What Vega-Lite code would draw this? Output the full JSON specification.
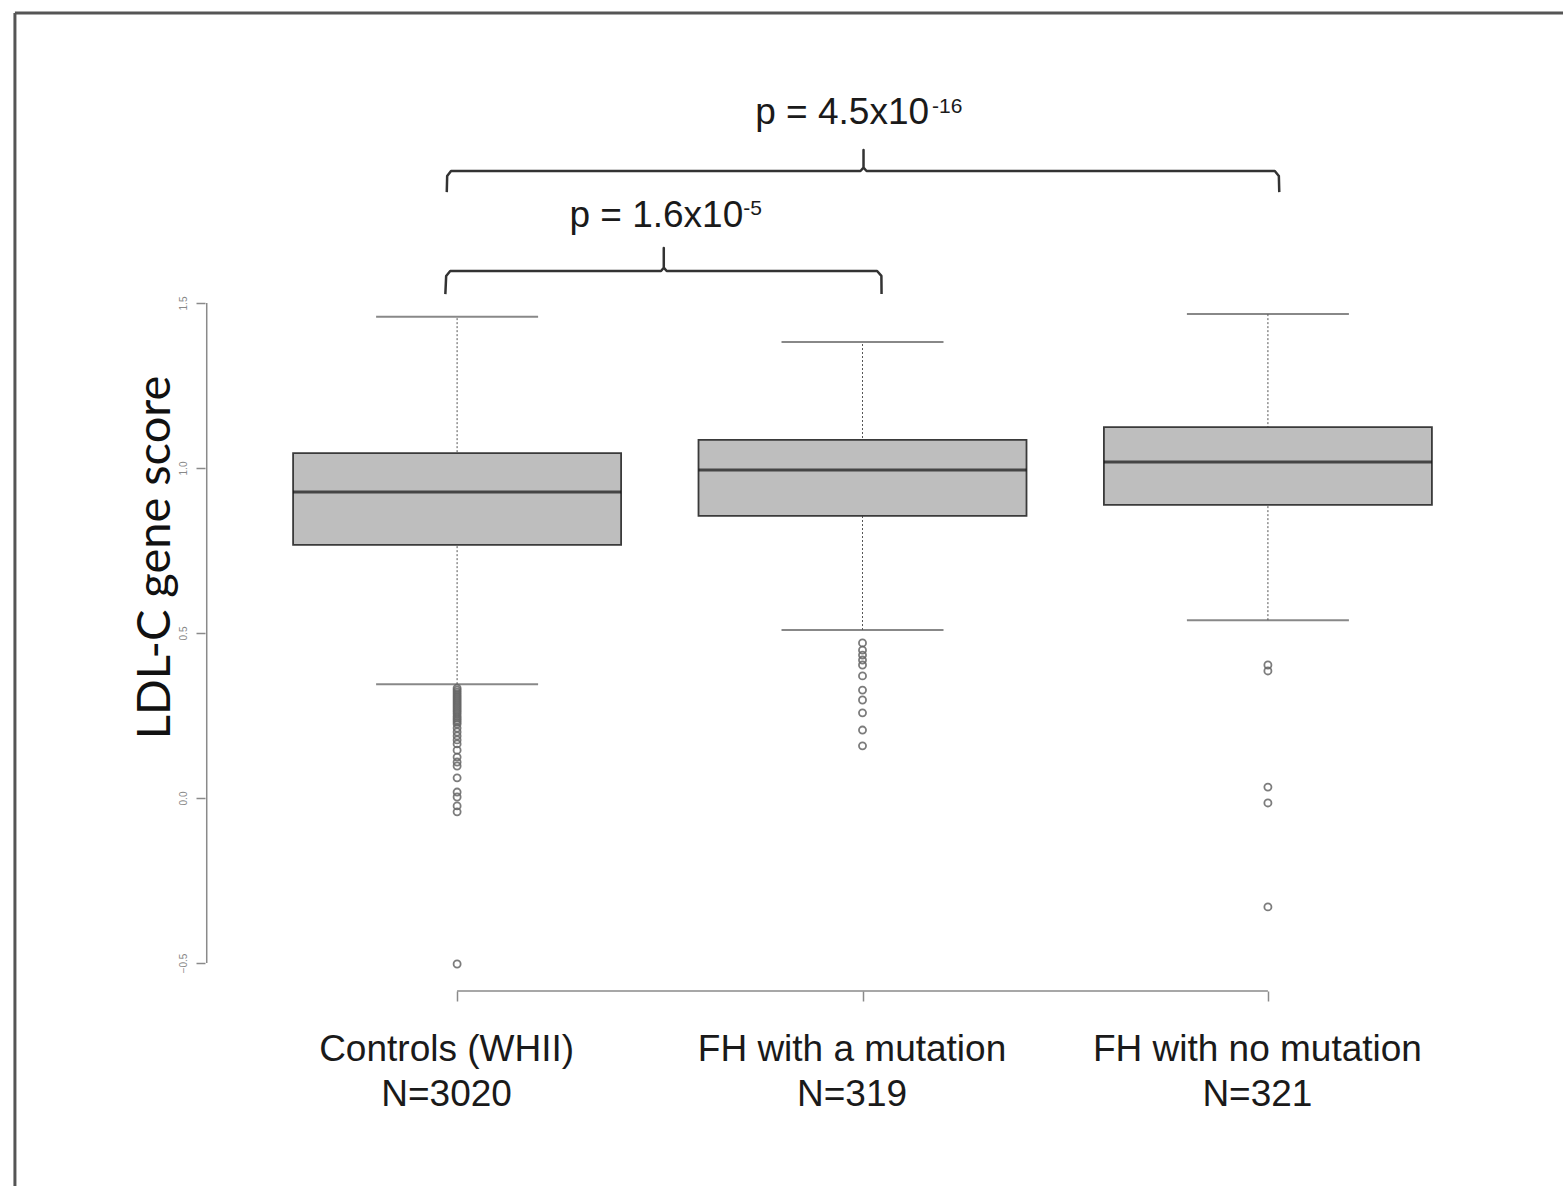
{
  "$schema": "https://vega.github.io/schema/vega-lite/v6.json",
  "width": 1568,
  "height": 1186,
  "autosize": "none",
  "padding": 0,
  "background": "white",
  "config": {"view": {"stroke": null}},
  "datasets": {
    "boxes": [
      {"group": "Controls (WHII)", "n": "N=3020", "pos": 1, "lo": 0.345, "q1": 0.767, "median": 0.927, "q3": 1.045, "hi": 1.458},
      {"group": "FH with a mutation", "n": "N=319", "pos": 2, "lo": 0.509, "q1": 0.855, "median": 0.994, "q3": 1.085, "hi": 1.382},
      {"group": "FH with no mutation", "n": "N=321", "pos": 3, "lo": 0.539, "q1": 0.888, "median": 1.018, "q3": 1.124, "hi": 1.467}
    ],
    "outliers": [
      {"pos": 1, "value": 0.333}, {"pos": 1, "value": 0.327}, {"pos": 1, "value": 0.321}, {"pos": 1, "value": 0.315},
      {"pos": 1, "value": 0.309}, {"pos": 1, "value": 0.303}, {"pos": 1, "value": 0.297}, {"pos": 1, "value": 0.291},
      {"pos": 1, "value": 0.285}, {"pos": 1, "value": 0.279}, {"pos": 1, "value": 0.273}, {"pos": 1, "value": 0.267},
      {"pos": 1, "value": 0.261}, {"pos": 1, "value": 0.255}, {"pos": 1, "value": 0.248}, {"pos": 1, "value": 0.242},
      {"pos": 1, "value": 0.236}, {"pos": 1, "value": 0.230}, {"pos": 1, "value": 0.224}, {"pos": 1, "value": 0.212},
      {"pos": 1, "value": 0.200}, {"pos": 1, "value": 0.188}, {"pos": 1, "value": 0.176}, {"pos": 1, "value": 0.164},
      {"pos": 1, "value": 0.145}, {"pos": 1, "value": 0.124}, {"pos": 1, "value": 0.109}, {"pos": 1, "value": 0.097},
      {"pos": 1, "value": 0.061}, {"pos": 1, "value": 0.018}, {"pos": 1, "value": 0.003}, {"pos": 1, "value": -0.024},
      {"pos": 1, "value": -0.042}, {"pos": 1, "value": -0.503},
      {"pos": 2, "value": 0.470}, {"pos": 2, "value": 0.448}, {"pos": 2, "value": 0.433}, {"pos": 2, "value": 0.418},
      {"pos": 2, "value": 0.403}, {"pos": 2, "value": 0.370}, {"pos": 2, "value": 0.327}, {"pos": 2, "value": 0.297},
      {"pos": 2, "value": 0.258}, {"pos": 2, "value": 0.206}, {"pos": 2, "value": 0.158},
      {"pos": 3, "value": 0.403}, {"pos": 3, "value": 0.385}, {"pos": 3, "value": 0.033}, {"pos": 3, "value": -0.015},
      {"pos": 3, "value": -0.330}
    ],
    "brackets": [
      {"id": "a", "i": 1, "x": 0.9745, "y": 1.836}, {"id": "a", "i": 2, "x": 0.9755, "y": 1.885},
      {"id": "a", "i": 3, "x": 0.985, "y": 1.9}, {"id": "a", "i": 4, "x": 1.995, "y": 1.9},
      {"id": "a", "i": 5, "x": 2.0025, "y": 1.91}, {"id": "a", "i": 6, "x": 2.0025, "y": 1.964},
      {"id": "a", "i": 7, "x": 2.0025, "y": 1.91}, {"id": "a", "i": 8, "x": 2.01, "y": 1.9},
      {"id": "a", "i": 9, "x": 3.017, "y": 1.9}, {"id": "a", "i": 10, "x": 3.027, "y": 1.885},
      {"id": "a", "i": 11, "x": 3.028, "y": 1.836},
      {"id": "b", "i": 1, "x": 0.971, "y": 1.527}, {"id": "b", "i": 2, "x": 0.973, "y": 1.582},
      {"id": "b", "i": 3, "x": 0.983, "y": 1.597}, {"id": "b", "i": 4, "x": 1.503, "y": 1.597},
      {"id": "b", "i": 5, "x": 1.5098, "y": 1.607}, {"id": "b", "i": 6, "x": 1.5098, "y": 1.667},
      {"id": "b", "i": 7, "x": 1.5098, "y": 1.607}, {"id": "b", "i": 8, "x": 1.517, "y": 1.597},
      {"id": "b", "i": 9, "x": 2.036, "y": 1.597}, {"id": "b", "i": 10, "x": 2.0466, "y": 1.582},
      {"id": "b", "i": 11, "x": 2.047, "y": 1.527}
    ],
    "pmain": [
      {"x": 1.7353, "y": 2.0424, "text": "p = 4.5x10"},
      {"x": 1.277, "y": 1.7303, "text": "p = 1.6x10"}
    ],
    "psup": [
      {"x": 2.1716, "y": 2.0758, "text": "-16"},
      {"x": 1.7059, "y": 1.7667, "text": "-5"}
    ],
    "one": [{"k": 1}]
  },
  "layer": [
    {
      "data": {"name": "boxes"},
      "mark": {"type": "rule", "color": "#555555", "strokeWidth": 1, "strokeDash": [2, 2]},
      "encoding": {
        "x": {
          "field": "pos", "type": "quantitative",
          "scale": {"domain": [-0.1152, 3.7279], "nice": false, "zero": false},
          "axis": {
            "values": [1, 2, 3], "orient": "bottom", "offset": -195, "domain": false, "grid": false,
            "tickColor": "#8a8a8a", "tickSize": 10, "tickWidth": 1.5,
            "labelExpr": "datum.value == 1 ? ['Controls (WHII)', 'N=3020'] : datum.value == 2 ? ['FH with a mutation', 'N=319'] : ['FH with no mutation', 'N=321']",
            "labelFont": "Liberation Sans", "labelFontSize": 37, "labelColor": "#1a1a1a", "labelLimit": 0, "labelOffset": -11,
            "labelLineHeight": 45, "labelPadding": 30, "labelBaseline": "top", "labelOverlap": false, "labelFlush": false,
            "title": null
          }
        },
        "y": {
          "field": "lo", "type": "quantitative",
          "scale": {"domain": [-1.17576, 2.41818], "nice": false, "zero": false},
          "axis": {
            "values": [-0.5, 0, 0.5, 1, 1.5], "format": ".1f", "orient": "left", "offset": -205, "domain": false, "grid": false,
            "tickColor": "#8a8a8a", "tickSize": 9, "tickWidth": 1.5,
            "labelAngle": -90, "labelFont": "Liberation Sans", "labelFontSize": 10, "labelColor": "#888888", "labelPadding": 8,
            "labelOverlap": false, "labelFlush": false,
            "title": "LDL-C gene score", "titleFont": "Lato", "titleFontSize": 47, "titleFontWeight": "normal", "titleColor": "#111111",
            "titleX": -50, "titleY": 557, "titleAngle": -90, "titleAlign": "center", "titleBaseline": "middle"
          }
        },
        "y2": {"field": "hi"}
      }
    },
    {
      "data": {"name": "one"},
      "mark": {"type": "rule", "color": "#555555", "strokeWidth": 3},
      "encoding": {
        "x": {"datum": -0.0907, "type": "quantitative"},
        "y": {"datum": 2.3788, "type": "quantitative"},
        "y2": {"datum": -1.17576}
      }
    },
    {
      "data": {"name": "one"},
      "mark": {"type": "rule", "color": "#555555", "strokeWidth": 3},
      "encoding": {
        "x": {"datum": -0.0907, "type": "quantitative"},
        "x2": {"datum": 3.7279},
        "y": {"datum": 2.3788, "type": "quantitative"}
      }
    },
    {
      "data": {"name": "one"},
      "mark": {"type": "rule", "color": "#8a8a8a", "strokeWidth": 1.5},
      "encoding": {
        "x": {"datum": 0.3824, "type": "quantitative"},
        "y": {"datum": -0.5, "type": "quantitative"},
        "y2": {"datum": 1.5}
      }
    },
    {
      "data": {"name": "one"},
      "mark": {"type": "rule", "color": "#8a8a8a", "strokeWidth": 1.5},
      "encoding": {
        "x": {"datum": 1, "type": "quantitative"},
        "x2": {"datum": 3},
        "y": {"datum": -0.5848, "type": "quantitative"}
      }
    },
    {
      "data": {"name": "boxes"},
      "mark": {"type": "bar", "width": 328, "fill": "#bebebe", "stroke": "#3a3a3a", "strokeWidth": 1.8},
      "encoding": {
        "x": {"field": "pos", "type": "quantitative"},
        "y": {"field": "q1", "type": "quantitative"},
        "y2": {"field": "q3"}
      }
    },
    {
      "data": {"name": "boxes"},
      "mark": {"type": "tick", "orient": "horizontal", "size": 328, "thickness": 3, "color": "#111111"},
      "encoding": {
        "x": {"field": "pos", "type": "quantitative"},
        "y": {"field": "median", "type": "quantitative"}
      }
    },
    {
      "data": {"name": "boxes"},
      "mark": {"type": "tick", "orient": "horizontal", "size": 162, "thickness": 2, "color": "#555555"},
      "encoding": {
        "x": {"field": "pos", "type": "quantitative"},
        "y": {"field": "hi", "type": "quantitative"}
      }
    },
    {
      "data": {"name": "boxes"},
      "mark": {"type": "tick", "orient": "horizontal", "size": 162, "thickness": 2, "color": "#555555"},
      "encoding": {
        "x": {"field": "pos", "type": "quantitative"},
        "y": {"field": "lo", "type": "quantitative"}
      }
    },
    {
      "data": {"name": "outliers"},
      "mark": {"type": "point", "shape": "circle", "filled": false, "stroke": "#666666", "strokeWidth": 1.8, "size": 50, "opacity": 0.85},
      "encoding": {
        "x": {"field": "pos", "type": "quantitative"},
        "y": {"field": "value", "type": "quantitative"}
      }
    },
    {
      "data": {"name": "brackets"},
      "mark": {"type": "line", "color": "#333333", "strokeWidth": 2.5, "strokeJoin": "round"},
      "encoding": {
        "x": {"field": "x", "type": "quantitative"},
        "y": {"field": "y", "type": "quantitative"},
        "detail": {"field": "id"},
        "order": {"field": "i", "type": "quantitative"}
      }
    },
    {
      "data": {"name": "pmain"},
      "mark": {"type": "text", "align": "left", "baseline": "alphabetic", "font": "Liberation Sans", "fontSize": 37, "color": "#1a1a1a"},
      "encoding": {
        "x": {"field": "x", "type": "quantitative"},
        "y": {"field": "y", "type": "quantitative"},
        "text": {"field": "text"}
      }
    },
    {
      "data": {"name": "psup"},
      "mark": {"type": "text", "align": "left", "baseline": "alphabetic", "font": "Liberation Sans", "fontSize": 21, "color": "#1a1a1a"},
      "encoding": {
        "x": {"field": "x", "type": "quantitative"},
        "y": {"field": "y", "type": "quantitative"},
        "text": {"field": "text"}
      }
    }
  ]
}
